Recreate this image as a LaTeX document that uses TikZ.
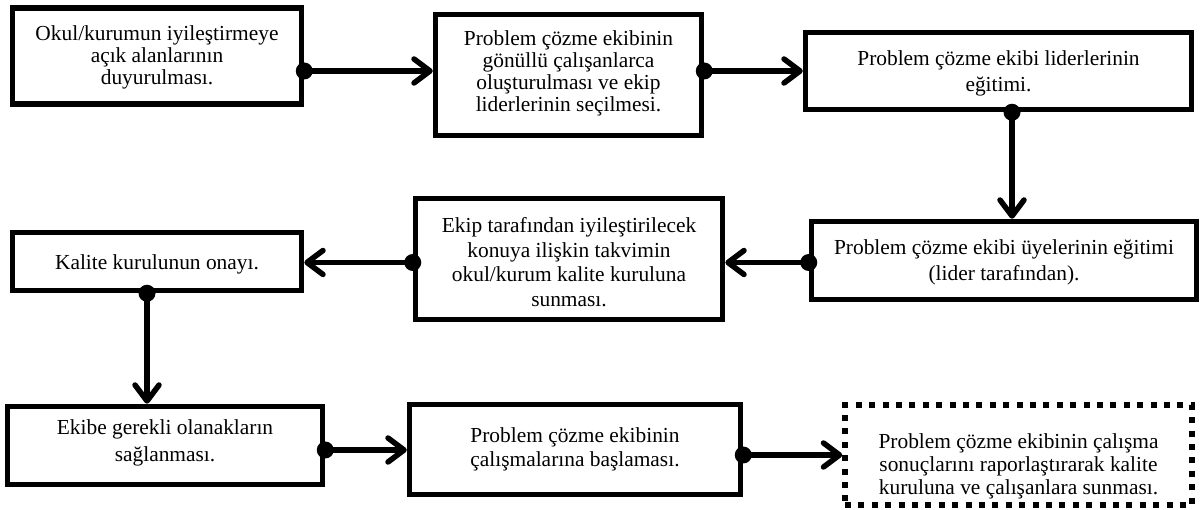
\documentclass[tikz,border=0pt]{standalone}
\usepackage{fontspec}
\setmainfont{Liberation Serif}
\usetikzlibrary{arrows.meta}
\begin{document}
\begin{tikzpicture}[x=1pt,y=-1pt,
  stepbox/.style={draw, rectangle, line width=5.5pt, inner sep=0pt, align=center},
  lsp/.style={font=\fontsize{21.4pt}{#1}\selectfont},
  dotbox/.style={stepbox, dash pattern=on 6pt off 7.4pt},
  flow/.style={line width=5.5pt, -{Straight Barb[round,length=16pt,width=24pt]}},
  knob/.style={fill=black}
]
\useasboundingbox (0,0) rectangle (1203,510);

% process steps (text height places the last baseline inside each box)
\node[stepbox, lsp=21.7pt, minimum width=289pt, minimum height=96pt, text height=56.8pt, text depth=0pt]
  (A) at (157,56) {Okul/kurumun iyileştirmeye\\açık alanlarının\\duyurulması.};
\node[stepbox, lsp=21.7pt, minimum width=266pt, minimum height=121pt, text height=72.2pt, text depth=0pt]
  (B) at (568.5,75) {Problem çözme ekibinin\\gönüllü çalışanlarca\\oluşturulması ve ekip\\liderlerinin seçilmesi.};
\node[stepbox, lsp=26pt, minimum width=386pt, minimum height=77pt, text height=42pt, text depth=0pt]
  (C) at (998.5,71) {Problem çözme ekibi liderlerinin\\eğitimi.};
\node[stepbox, lsp=26pt, minimum width=385pt, minimum height=78pt, text height=41pt, text depth=0pt]
  (D) at (1004,260.5) {Problem çözme ekibi üyelerinin eğitimi\\(lider tarafından).};
\node[stepbox, lsp=24.5pt, minimum width=307pt, minimum height=121pt, text height=95pt, text depth=0pt]
  (E) at (569,259) {Ekip tarafından iyileştirilecek\\konuya ilişkin takvimin\\okul/kurum kalite kuruluna\\sunması.};
\node[stepbox, lsp=24pt, minimum width=289pt, minimum height=58pt, text height=17pt, text depth=0pt]
  (F) at (157,261.5) {Kalite kurulunun onayı.};
\node[stepbox, lsp=26.7pt, minimum width=315pt, minimum height=78pt, text height=32.4pt, text depth=0pt]
  (G) at (165,445.5) {Ekibe gerekli olanakların\\sağlanması.};
\node[stepbox, lsp=23.3pt, minimum width=331pt, minimum height=90pt, text height=33.6pt, text depth=0pt]
  (H) at (575,449.5) {Problem çözme ekibinin\\çalışmalarına başlaması.};
\node[dotbox, lsp=23.3pt, minimum width=347pt, minimum height=100pt, text height=79.2pt, text depth=0pt]
  (I) at (1018.5,455) {Problem çözme ekibinin çalışma\\sonuçlarını raporlaştırarak kalite\\kuruluna ve çalışanlara sunması.};

% guide lines for the connectors
\coordinate (row1) at (0,71);
\coordinate (row2) at (0,262.5);
\coordinate (row3a) at (0,450);
\coordinate (row3b) at (0,455);
\coordinate (colR) at (1012,0);
\coordinate (colL) at (147,0);

% connectors: dot at the source, open arrowhead at the target
\draw[flow] (A.east |- row1) coordinate (ab) -- (B.west |- row1);
\fill[knob] (ab) circle[radius=8.5pt];
\draw[flow] (B.east |- row1) coordinate (bc) -- (C.west |- row1);
\fill[knob] (bc) circle[radius=8.5pt];
\draw[flow] (C.south -| colR) coordinate (cd) -- (D.north -| colR);
\fill[knob] (cd) circle[radius=8.5pt];
\draw[flow] (D.west |- row2) coordinate (de) -- (E.east |- row2);
\fill[knob] (de) circle[radius=8.5pt];
\draw[flow] (E.west |- row2) coordinate (ef) -- (F.east |- row2);
\fill[knob] (ef) circle[radius=8.5pt];
\draw[flow] (F.south -| colL) coordinate (fg) -- (G.north -| colL);
\fill[knob] (fg) circle[radius=8.5pt];
\draw[flow] (G.east |- row3a) coordinate (gh) -- (H.west |- row3a);
\fill[knob] (gh) circle[radius=8.5pt];
\draw[flow] (H.east |- row3b) coordinate (hi) -- (I.west |- row3b);
\fill[knob] (hi) circle[radius=8.5pt];
\end{tikzpicture}
\end{document}
